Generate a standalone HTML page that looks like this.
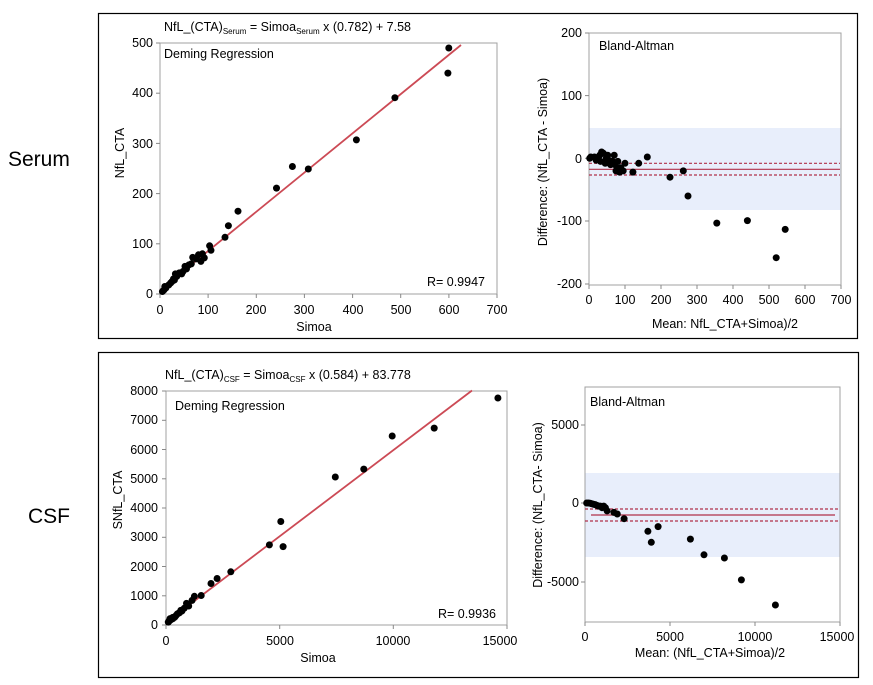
<!DOCTYPE html>
<html><head><meta charset="utf-8"><style>
body{margin:0;background:#fff;}
svg{display:block;font-family:"Liberation Sans",sans-serif;}
</style></head><body>
<svg width="873" height="685" viewBox="0 0 873 685">
<rect x="0" y="0" width="873" height="685" fill="#fff"/>
<rect x="98.5" y="13.5" width="759" height="325" fill="none" stroke="#000" stroke-width="1.2"/>
<rect x="98.5" y="352.5" width="760" height="325" fill="none" stroke="#000" stroke-width="1.2"/>
<text x="8" y="166" font-size="21">Serum</text>
<text x="28" y="523" font-size="21">CSF</text>

<!-- TOP LEFT -->
<g font-size="12.5" fill="#000">
<rect x="160" y="43" width="337" height="251" fill="none" stroke="#a0a0a0"/>
<g stroke="#888">
<line x1="156" y1="43" x2="160" y2="43"/><line x1="156" y1="93.2" x2="160" y2="93.2"/><line x1="156" y1="143.4" x2="160" y2="143.4"/><line x1="156" y1="193.6" x2="160" y2="193.6"/><line x1="156" y1="243.8" x2="160" y2="243.8"/><line x1="156" y1="294" x2="160" y2="294"/>
<line x1="160" y1="294" x2="160" y2="298"/><line x1="208.1" y1="294" x2="208.1" y2="298"/><line x1="256.3" y1="294" x2="256.3" y2="298"/><line x1="304.4" y1="294" x2="304.4" y2="298"/><line x1="352.6" y1="294" x2="352.6" y2="298"/><line x1="400.7" y1="294" x2="400.7" y2="298"/><line x1="448.9" y1="294" x2="448.9" y2="298"/><line x1="497" y1="294" x2="497" y2="298"/>
</g>
<g text-anchor="end">
<text x="153" y="47">500</text><text x="153" y="97">400</text><text x="153" y="148">300</text><text x="153" y="198">200</text><text x="153" y="248">100</text><text x="153" y="298">0</text>
</g>
<g text-anchor="middle">
<text x="160" y="314">0</text><text x="208" y="314">100</text><text x="256" y="314">200</text><text x="304" y="314">300</text><text x="353" y="314">400</text><text x="401" y="314">500</text><text x="449" y="314">600</text><text x="497" y="314">700</text>
<text x="314" y="331">Simoa</text>
</g>
<text transform="translate(124,153) rotate(-90)" text-anchor="middle">NfL_CTA</text>
<text x="164" y="31" font-size="12.5">NfL_(CTA)<tspan font-size="8" dy="3">Serum</tspan><tspan dy="-3"> = Simoa</tspan><tspan font-size="8" dy="3">Serum</tspan><tspan dy="-3"> x (0.782) + 7.58</tspan></text>
<text x="164" y="58">Deming Regression</text>
<text x="485" y="286" text-anchor="end">R= 0.9947</text>
<line x1="160" y1="290.2" x2="461" y2="45" stroke="#cc4a55" stroke-width="1.8"/>
<g fill="#000">
<circle cx="448.8" cy="48" r="3.5"/><circle cx="447.9" cy="73.1" r="3.5"/><circle cx="394.9" cy="97.7" r="3.5"/><circle cx="356.4" cy="139.9" r="3.5"/><circle cx="308.3" cy="169" r="3.5"/><circle cx="292.4" cy="166.5" r="3.5"/><circle cx="276.5" cy="188.1" r="3.5"/><circle cx="238" cy="211.2" r="3.5"/><circle cx="228.4" cy="225.7" r="3.5"/><circle cx="225" cy="237.3" r="3.5"/><circle cx="209.6" cy="245.8" r="3.5"/><circle cx="211" cy="250.3" r="3.5"/><circle cx="204.3" cy="257.9" r="3.5"/><circle cx="200.9" cy="261.4" r="3.5"/><circle cx="198.5" cy="254.8" r="3.5"/><circle cx="196.1" cy="258.9" r="3.5"/><circle cx="192.7" cy="257.4" r="3.5"/><circle cx="188.9" cy="264.9" r="3.5"/><circle cx="185" cy="266.4" r="3.5"/><circle cx="183.1" cy="271.4" r="3.5"/><circle cx="181.7" cy="273.9" r="3.5"/><circle cx="179.3" cy="272.9" r="3.5"/><circle cx="176.8" cy="276.4" r="3.5"/><circle cx="175.4" cy="273.9" r="3.5"/><circle cx="173.5" cy="278.9" r="3.5"/><circle cx="172" cy="281.5" r="3.5"/><circle cx="170.6" cy="283" r="3.5"/><circle cx="168.7" cy="285" r="3.5"/><circle cx="165.8" cy="288" r="3.5"/><circle cx="163.9" cy="290" r="3.5"/><circle cx="162.4" cy="291.5" r="3.5"/><circle cx="164.8" cy="286.5" r="3.5"/><circle cx="174.4" cy="280" r="3.5"/><circle cx="186.5" cy="268.9" r="3.5"/><circle cx="191.3" cy="263.9" r="3.5"/><circle cx="202.4" cy="253.8" r="3.5"/>
</g>
</g>

<!-- TOP RIGHT -->
<g font-size="12.5" fill="#000">
<rect x="589" y="128" width="252" height="82" fill="#e8eefb"/>
<rect x="589" y="33" width="252" height="252" fill="none" stroke="#a0a0a0"/>
<g stroke="#888">
<line x1="585" y1="33" x2="589" y2="33"/><line x1="585" y1="95.6" x2="589" y2="95.6"/><line x1="585" y1="158.3" x2="589" y2="158.3"/><line x1="585" y1="221" x2="589" y2="221"/><line x1="585" y1="284" x2="589" y2="284"/>
<line x1="589" y1="285" x2="589" y2="289"/><line x1="625" y1="285" x2="625" y2="289"/><line x1="661" y1="285" x2="661" y2="289"/><line x1="697" y1="285" x2="697" y2="289"/><line x1="733" y1="285" x2="733" y2="289"/><line x1="769" y1="285" x2="769" y2="289"/><line x1="805" y1="285" x2="805" y2="289"/><line x1="841" y1="285" x2="841" y2="289"/>
</g>
<g text-anchor="end">
<text x="582" y="37">200</text><text x="582" y="100">100</text><text x="582" y="163">0</text><text x="582" y="225">-100</text><text x="582" y="288">-200</text>
</g>
<g text-anchor="middle">
<text x="589" y="304">0</text><text x="625" y="304">100</text><text x="661" y="304">200</text><text x="697" y="304">300</text><text x="733" y="304">400</text><text x="769" y="304">500</text><text x="805" y="304">600</text><text x="841" y="304">700</text>
<text x="725" y="328">Mean: NfL_CTA+Simoa)/2</text>
</g>
<text transform="translate(547,162) rotate(-90)" text-anchor="middle">Difference: (NfL_CTA - Simoa)</text>
<text x="599" y="50">Bland-Altman</text>
<line x1="589" y1="169.3" x2="840" y2="169.3" stroke="#b0304a" stroke-width="1.2"/>
<line x1="589" y1="163.3" x2="840" y2="163.3" stroke="#b0304a" stroke-width="1.2" stroke-dasharray="3,2"/>
<line x1="589" y1="175" x2="840" y2="175" stroke="#b0304a" stroke-width="1.2" stroke-dasharray="3,2"/>
<g fill="#000">
<circle cx="776.2" cy="257.7" r="3.5"/><circle cx="785.2" cy="229.4" r="3.5"/><circle cx="747.4" cy="220.6" r="3.5"/><circle cx="716.8" cy="223.1" r="3.5"/><circle cx="688" cy="196" r="3.5"/><circle cx="683.3" cy="170.9" r="3.5"/><circle cx="670" cy="177.2" r="3.5"/><circle cx="647.3" cy="157" r="3.5"/><circle cx="638.7" cy="163.3" r="3.5"/><circle cx="632.9" cy="172.1" r="3.5"/><circle cx="625" cy="163.3" r="3.5"/><circle cx="623.2" cy="170.9" r="3.5"/><circle cx="619.6" cy="172.1" r="3.5"/><circle cx="617.8" cy="161.4" r="3.5"/><circle cx="617.1" cy="167.8" r="3.5"/><circle cx="616" cy="170.9" r="3.5"/><circle cx="614.2" cy="155.2" r="3.5"/><circle cx="612.4" cy="161.4" r="3.5"/><circle cx="610.6" cy="164.6" r="3.5"/><circle cx="607.7" cy="155.2" r="3.5"/><circle cx="605.2" cy="163.3" r="3.5"/><circle cx="603.4" cy="153.3" r="3.5"/><circle cx="601.6" cy="152" r="3.5"/><circle cx="599.8" cy="155.2" r="3.5"/><circle cx="598" cy="158.3" r="3.5"/><circle cx="596.2" cy="160.2" r="3.5"/><circle cx="594.4" cy="157" r="3.5"/><circle cx="590.8" cy="157" r="3.5"/><circle cx="589.7" cy="158.3" r="3.5"/><circle cx="608.8" cy="160.2" r="3.5"/><circle cx="620.7" cy="167.8" r="3.5"/><circle cx="614.9" cy="164.6" r="3.5"/><circle cx="606.3" cy="158.3" r="3.5"/><circle cx="600.5" cy="161.4" r="3.5"/>
</g>
</g>

<!-- BOTTOM LEFT -->
<g font-size="12.5" fill="#000">
<rect x="166" y="391" width="341" height="234" fill="none" stroke="#a0a0a0"/>
<g stroke="#888">
<line x1="162" y1="391" x2="166" y2="391"/><line x1="162" y1="420.3" x2="166" y2="420.3"/><line x1="162" y1="449.5" x2="166" y2="449.5"/><line x1="162" y1="478.8" x2="166" y2="478.8"/><line x1="162" y1="508" x2="166" y2="508"/><line x1="162" y1="537.3" x2="166" y2="537.3"/><line x1="162" y1="566.5" x2="166" y2="566.5"/><line x1="162" y1="595.8" x2="166" y2="595.8"/><line x1="162" y1="625" x2="166" y2="625"/>
<line x1="166" y1="625" x2="166" y2="629"/><line x1="279.7" y1="625" x2="279.7" y2="629"/><line x1="393.3" y1="625" x2="393.3" y2="629"/><line x1="507" y1="625" x2="507" y2="629"/>
</g>
<g text-anchor="end">
<text x="158" y="395">8000</text><text x="158" y="424">7000</text><text x="158" y="454">6000</text><text x="158" y="483">5000</text><text x="158" y="512">4000</text><text x="158" y="541">3000</text><text x="158" y="571">2000</text><text x="158" y="600">1000</text><text x="158" y="629">0</text>
</g>
<g text-anchor="middle">
<text x="166" y="645">0</text><text x="280" y="645">5000</text><text x="393" y="645">10000</text><text x="500" y="645">15000</text>
<text x="318" y="662">Simoa</text>
</g>
<text transform="translate(122,500) rotate(-90)" text-anchor="middle">SNfL_CTA</text>
<text x="165" y="379" font-size="12.5">NfL_(CTA)<tspan font-size="8" dy="3">CSF</tspan><tspan dy="-3"> = Simoa</tspan><tspan font-size="8" dy="3">CSF</tspan><tspan dy="-3"> x (0.584) + 83.778</tspan></text>
<text x="175" y="410">Deming Regression</text>
<text x="496" y="618" text-anchor="end">R= 0.9936</text>
<line x1="166" y1="622.5" x2="472" y2="390.5" stroke="#cc4a55" stroke-width="1.8"/>
<g fill="#000">
<circle cx="497.9" cy="398" r="3.5"/><circle cx="434.2" cy="428.1" r="3.5"/><circle cx="392.2" cy="436" r="3.5"/><circle cx="363.8" cy="469.1" r="3.5"/><circle cx="335.3" cy="477" r="3.5"/><circle cx="280.8" cy="521.5" r="3.5"/><circle cx="269.4" cy="544.9" r="3.5"/><circle cx="283.1" cy="546.6" r="3.5"/><circle cx="230.8" cy="571.8" r="3.5"/><circle cx="217.1" cy="578.5" r="3.5"/><circle cx="211" cy="583.5" r="3.5"/><circle cx="201.2" cy="595.5" r="3.5"/><circle cx="194.4" cy="596.3" r="3.5"/><circle cx="192.1" cy="600.4" r="3.5"/><circle cx="186.5" cy="603.4" r="3.5"/><circle cx="188.7" cy="606" r="3.5"/><circle cx="184.2" cy="608.3" r="3.5"/><circle cx="181.9" cy="611" r="3.5"/><circle cx="179.6" cy="612.7" r="3.5"/><circle cx="177.4" cy="613.9" r="3.5"/><circle cx="176.2" cy="615.3" r="3.5"/><circle cx="175.1" cy="616.8" r="3.5"/><circle cx="174" cy="617.7" r="3.5"/><circle cx="172.8" cy="618.6" r="3.5"/><circle cx="171.7" cy="619.2" r="3.5"/><circle cx="170.5" cy="620" r="3.5"/><circle cx="169.4" cy="620.6" r="3.5"/><circle cx="168.7" cy="621.5" r="3.5"/><circle cx="168.3" cy="622.1" r="3.5"/><circle cx="172.8" cy="617.4" r="3.5"/><circle cx="178.5" cy="613.3" r="3.5"/><circle cx="180.8" cy="610.4" r="3.5"/><circle cx="170.1" cy="618.6" r="3.5"/>
</g>
</g>

<!-- BOTTOM RIGHT -->
<g font-size="12.5" fill="#000">
<rect x="585" y="473" width="255" height="84" fill="#e8eefb"/>
<rect x="585" y="387" width="255" height="235" fill="none" stroke="#a0a0a0"/>
<g stroke="#888">
<line x1="581" y1="425" x2="585" y2="425"/><line x1="581" y1="503" x2="585" y2="503"/><line x1="581" y1="582" x2="585" y2="582"/>
<line x1="585" y1="622" x2="585" y2="626"/><line x1="670" y1="622" x2="670" y2="626"/><line x1="755" y1="622" x2="755" y2="626"/><line x1="840" y1="622" x2="840" y2="626"/>
</g>
<g text-anchor="end">
<text x="579" y="429">5000</text><text x="579" y="507">0</text><text x="579" y="586">-5000</text>
</g>
<g text-anchor="middle">
<text x="585" y="641">0</text><text x="670" y="641">5000</text><text x="755" y="641">10000</text><text x="837" y="641">15000</text>
<text x="710" y="657">Mean: (NfL_CTA+Simoa)/2</text>
</g>
<text transform="translate(542,505) rotate(-90)" text-anchor="middle">Difference: (NfL_CTA- Simoa)</text>
<text x="590" y="406">Bland-Altman</text>
<line x1="591" y1="515" x2="835" y2="515" stroke="#b0304a" stroke-width="1.2"/>
<line x1="585" y1="509" x2="840" y2="509" stroke="#b0304a" stroke-width="1.2" stroke-dasharray="3,2"/>
<line x1="585" y1="521" x2="840" y2="521" stroke="#b0304a" stroke-width="1.2" stroke-dasharray="3,2"/>
<g fill="#000">
<circle cx="775.4" cy="605" r="3.5"/><circle cx="741.4" cy="579.9" r="3.5"/><circle cx="724.4" cy="558" r="3.5"/><circle cx="704" cy="554.8" r="3.5"/><circle cx="690.4" cy="539.1" r="3.5"/><circle cx="658.1" cy="526.6" r="3.5"/><circle cx="651.3" cy="542.3" r="3.5"/><circle cx="647.9" cy="531.3" r="3.5"/><circle cx="624.1" cy="518.7" r="3.5"/><circle cx="617.3" cy="514" r="3.5"/><circle cx="613.9" cy="512.4" r="3.5"/><circle cx="607.1" cy="510.9" r="3.5"/><circle cx="605.4" cy="507.7" r="3.5"/><circle cx="603.7" cy="506.1" r="3.5"/><circle cx="602" cy="507.7" r="3.5"/><circle cx="600.3" cy="506.1" r="3.5"/><circle cx="598.6" cy="506.1" r="3.5"/><circle cx="596.9" cy="505.4" r="3.5"/><circle cx="595.2" cy="504.6" r="3.5"/><circle cx="593.5" cy="504.3" r="3.5"/><circle cx="591.8" cy="503.8" r="3.5"/><circle cx="590.1" cy="503.3" r="3.5"/><circle cx="588.4" cy="503" r="3.5"/><circle cx="586.7" cy="503" r="3.5"/>
</g>
</g>
</svg>
</body></html>
